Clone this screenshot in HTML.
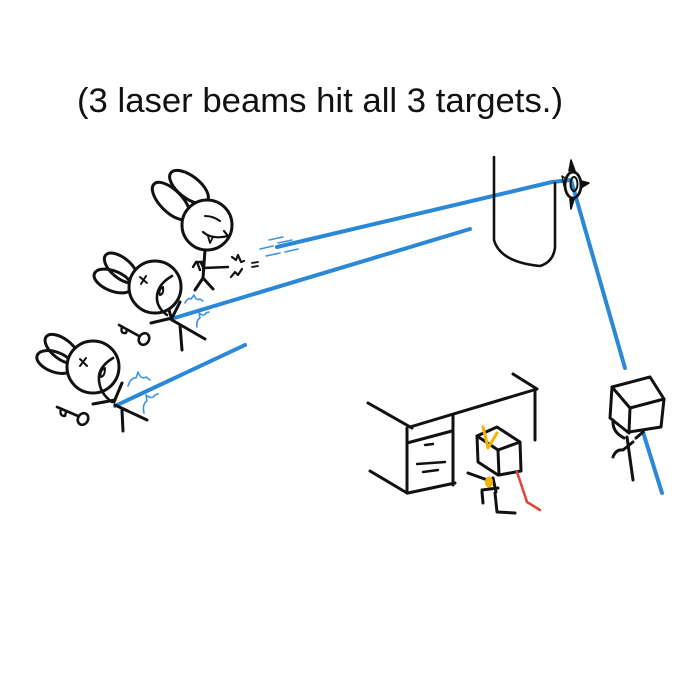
<!DOCTYPE html>
<html><head><meta charset="utf-8"><style>
html,body{margin:0;padding:0;background:#fff;}
svg{display:block;}
</style></head><body>
<svg width="700" height="700" viewBox="0 0 700 700" xmlns="http://www.w3.org/2000/svg">
<rect width="700" height="700" fill="#fff"/>
<text x="77" y="112" font-family="Liberation Sans, sans-serif" font-size="34" fill="#111" textLength="486" lengthAdjust="spacingAndGlyphs">(3 laser beams hit all 3 targets.)</text>

<!-- Blue beams -->
<g stroke="#2b88d8" stroke-width="4" stroke-linecap="round" fill="none">
  <polyline points="277,247 552,182 571,180 625,368"/>
  <line x1="643" y1="432" x2="662" y2="493"/>
  <line x1="171" y1="319" x2="470" y2="229"/>
  <line x1="115" y1="406" x2="245" y2="345"/>
</g>
<!-- blue dashes near gun -->
<g stroke="#3a95e0" stroke-width="1.6" stroke-linecap="round" fill="none">
  <line x1="260" y1="249" x2="273" y2="246"/>
  <line x1="269" y1="240" x2="283" y2="237"/>
  <line x1="266" y1="256" x2="280" y2="253"/>
  <line x1="278" y1="243" x2="292" y2="240"/>
  <line x1="285" y1="252" x2="298" y2="249"/>
</g>
<!-- blue splashes -->
<g stroke="#3a95e0" stroke-width="1.6" stroke-linecap="round" stroke-linejoin="round" fill="none">
  <path d="M185 303 Q188 297 191 299 L194 295 Q196 301 200 299 L203 301"/>
  <path d="M197 327 Q196 320 200 318 L199 313 Q204 317 206 313 L209 312"/>
  <path d="M128 386 Q131 377 136 378 L138 372 Q141 380 146 377 L150 380"/>
  <path d="M144 413 Q142 404 147 401 L146 395 Q152 400 155 395 L158 394"/>
</g>

<g stroke="#111" stroke-width="3" stroke-linecap="round" stroke-linejoin="round" fill="none">
  <!-- Top bunny -->
  <ellipse cx="171" cy="201" rx="24" ry="11" transform="rotate(45 171 201)"/>
  <ellipse cx="189" cy="187" rx="23" ry="11" transform="rotate(38 189 187)"/>
  <circle cx="207" cy="225" r="25" fill="#fff"/>
  <path d="M205 216 Q213 216 220 221" stroke-width="2"/>
  <path d="M203 232 Q212 240 228 236 L224 231" stroke-width="2.2"/>
  <path d="M208 236 L210 243 L213 237" stroke-width="1.8"/>
  <line x1="205" y1="250" x2="203" y2="278"/>
  <line x1="203" y1="278" x2="195" y2="290"/>
  <line x1="203" y1="278" x2="213" y2="289"/>
  <path d="M204 262 L196 262 L193 267 M197 262 L200 270 M201 263 L204 269" stroke-width="2.4"/>
  <line x1="203" y1="268" x2="228" y2="267" stroke-width="2.4"/>
  <path d="M232 257 L236 260 L238 255 L241 262 L244 261" stroke-width="2.2"/>
  <path d="M231 277 L235 272 L238 275 L242 269" stroke-width="2.2"/>
  <line x1="252" y1="263" x2="258" y2="262" stroke-width="1.8"/>
  <line x1="252" y1="267" x2="258" y2="266" stroke-width="1.8"/>

  <!-- Middle bunny -->
  <ellipse cx="121" cy="268" rx="20" ry="10" transform="rotate(40 121 268)"/>
  <ellipse cx="113" cy="281" rx="20" ry="10" transform="rotate(22 113 281)"/>
  <circle cx="155" cy="287" r="26" fill="#fff"/>
  <path d="M140 277 L147 283 M146 276 L141 284" stroke-width="2"/>
  <path d="M172 276 Q158 284 157 296 Q156 307 167 315" stroke-width="2.6"/>
  <path d="M163 287 Q158 290 160 295 Q164 294 163 287" stroke-width="2"/>
  <line x1="169" y1="310" x2="172" y2="320"/>
  <line x1="180" y1="302" x2="172" y2="318"/>
  <line x1="151" y1="323" x2="172" y2="318"/>
  <line x1="172" y1="320" x2="205" y2="339"/>
  <line x1="180" y1="325" x2="182" y2="350"/>
  <!-- key -->
  <path d="M119 325 L139 336" stroke-width="2.6"/>
  <path d="M122 327 Q120 334 126 333 L127 330" stroke-width="2.4"/>
  <ellipse cx="144" cy="339" rx="5" ry="6" transform="rotate(30 144 339)" stroke-width="2.6"/>

  <!-- Bottom bunny -->
  <ellipse cx="62" cy="349" rx="20" ry="10" transform="rotate(38 62 349)"/>
  <ellipse cx="55" cy="362" rx="19" ry="10" transform="rotate(20 55 362)"/>
  <circle cx="93" cy="367" r="26" fill="#fff"/>
  <path d="M80 359 L87 366 M86 358 L80 366" stroke-width="2"/>
  <path d="M113 358 Q100 366 99 376 Q98 392 112 402" stroke-width="2.6"/>
  <path d="M105 368 Q99 371 101 377 Q105 376 105 368" stroke-width="2"/>
  <line x1="122" y1="383" x2="114" y2="402"/>
  <line x1="93" y1="404" x2="115" y2="400"/>
  <line x1="115" y1="405" x2="147" y2="420"/>
  <line x1="122" y1="410" x2="123" y2="431"/>
  <!-- key -->
  <path d="M57 407 L78 416" stroke-width="2.6"/>
  <path d="M61 409 Q59 416 65 416 L66 412" stroke-width="2.4"/>
  <ellipse cx="83" cy="419" rx="5" ry="6" transform="rotate(30 83 419)" stroke-width="2.6"/>

  <!-- Pillar -->
  <path d="M494 157 L494 240 Q500 262 540 266 Q553 262 555 248 L555 183" stroke-width="2.6"/>
  <!-- Reflector -->
  <ellipse cx="573" cy="185" rx="8" ry="13" stroke-width="2.8"/>
  <ellipse cx="574" cy="184" rx="3.5" ry="7" stroke-width="2"/>
  <path d="M569 171 L571 160 L575 171" stroke-width="1.6" fill="#111"/>
  <path d="M581 181 L589 183 L581 188" stroke-width="1.6" fill="#111"/>
  <path d="M570 199 L571 209 L574 199" stroke-width="1.6" fill="#111"/>
  <path d="M565 178 L562 176 L564 186" stroke-width="1.4"/>

  <!-- Desk -->
  <line x1="368" y1="403" x2="412" y2="428"/>
  <line x1="410" y1="427" x2="537" y2="389"/>
  <line x1="513" y1="374" x2="537" y2="389"/>
  <line x1="535" y1="389" x2="535" y2="440"/>
  <line x1="407" y1="428" x2="407" y2="493"/>
  <line x1="453" y1="415" x2="453" y2="485"/>
  <line x1="407" y1="443" x2="452" y2="431"/>
  <line x1="408" y1="493" x2="455" y2="483"/>
  <line x1="370" y1="471" x2="407" y2="493"/>
  <line x1="425" y1="445" x2="433" y2="444" stroke-width="2.4"/>
  <line x1="417" y1="464" x2="445" y2="462" stroke-width="2.4"/>
  <line x1="423" y1="472" x2="438" y2="470" stroke-width="2.4"/>

  <!-- Small cube figure -->
  <polygon points="477,436 497,427 520,442 498,450"/>
  <polyline points="477,436 478,462 498,475"/>
  <polyline points="498,450 499,475 521,471 520,442"/>
  <line x1="468" y1="473" x2="493" y2="482"/>
  <line x1="482" y1="490" x2="498" y2="488"/>
  <line x1="482" y1="492" x2="483" y2="503"/>
  <polyline points="495,493 497,512 515,513"/>
  <line x1="493" y1="478" x2="496" y2="492"/>

  <!-- Right cube figure -->
  <polygon points="612,387 650,377 664,399 630,408"/>
  <polyline points="612,387 610,418 629,433"/>
  <polyline points="630,408 629,432 661,427 664,399"/>
  <path d="M613 420 Q612 432 624 438"/>
  <line x1="627" y1="437" x2="633" y2="480"/>
  <path d="M613 457 Q616 449 623 450 L633 442"/>
  <line x1="636" y1="438" x2="643" y2="432"/>
</g>

<!-- yellow -->
<g stroke="#f2b400" stroke-width="3" stroke-linecap="round" stroke-linejoin="round" fill="none">
  <polyline points="483,427 488,448 497,433"/>
  <ellipse cx="489" cy="482" rx="2.5" ry="4" fill="#f2b400"/>
</g>
<!-- red -->
<polyline points="517,472 527,502 540,510" stroke="#e0473a" stroke-width="2.6" stroke-linecap="round" stroke-linejoin="round" fill="none"/>
</svg>
</body></html>
